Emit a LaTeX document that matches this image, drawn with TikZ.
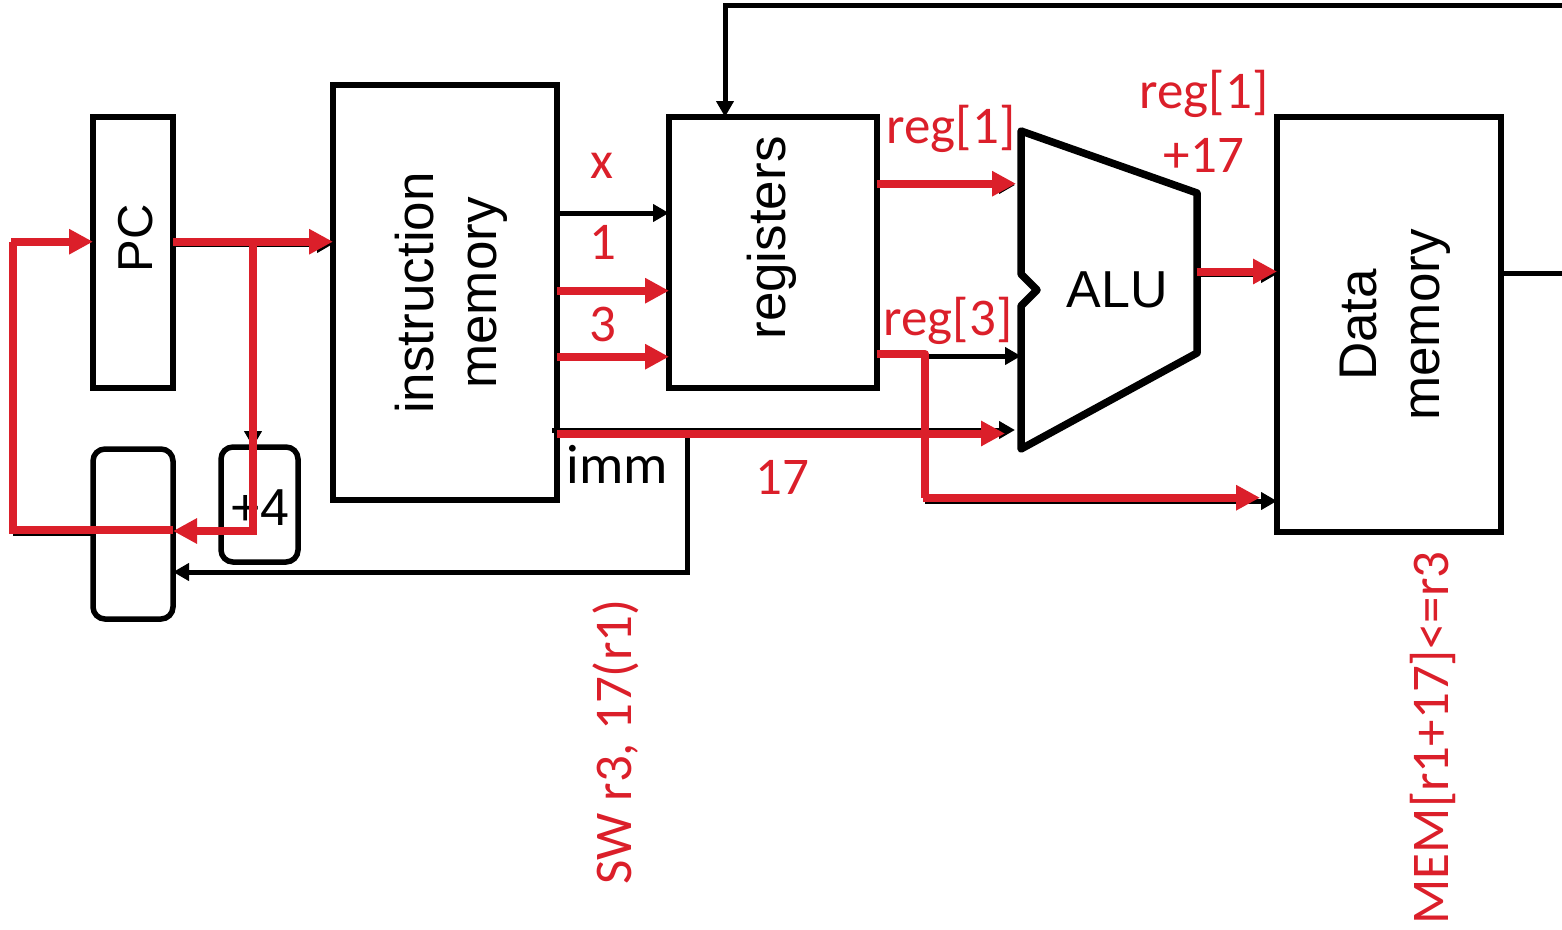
\documentclass[tikz,border=0pt]{standalone}
\usepackage{fontspec}
\setmainfont{Carlito}
\newfontfamily\arl{Liberation Sans}
\usetikzlibrary{arrows.meta}
\definecolor{rd}{HTML}{DB1F2A}
\tikzset{x=1pt,y=-1pt,
 box/.style={draw=black,line width=5.5pt,line join=miter},
 rbox/.style={draw=black,line width=5.5pt,rounded corners=12pt},
 blk/.style={draw=black,line width=5pt,-{Triangle[length=16pt,width=17pt]}},
 blkn/.style={draw=black,line width=5pt},
 red/.style={draw=rd,line width=8pt,-{Triangle[length=24pt,width=24pt]}},
 redn/.style={draw=rd,line width=8pt},
 lab/.style={font=\fontsize{55.5}{55.5}\selectfont,text=black,inner sep=0pt},
 alab/.style={font=\arl\fontsize{52}{52}\selectfont,text=black,inner sep=0pt},
 tlab/.style={font=\arl\fontsize{53}{63}\selectfont,text=black,inner sep=0pt},
 rlab/.style={font=\fontsize{53}{53}\selectfont,text=rd,inner sep=0pt},
}
\begin{document}
\begin{tikzpicture}
\useasboundingbox (0,0) rectangle (1562,929);
\path[box] (93,117) rectangle (173,388);
\node[alab,rotate=90,font=\arl\fontsize{49}{49}\selectfont] (pc) at (136,238) {PC};
\path[box] (333,85) rectangle (557,500);
\node[tlab,rotate=90,align=center] (im) at (451,293) {instruction\\memory};
\path[box] (669,117) rectangle (877,388);
\node[tlab,rotate=90] (rg) at (772,238) {registers};
\path[box] (1277,117) rectangle (1501,532);
\node[tlab,rotate=90,align=center] (dm) at (1395,325) {Data\\memory};
\path[rbox] (93,449) rectangle (173,619);
\path[rbox] (221,447) rectangle (298,562);
\node[alab] (p4) at (260,508) {+4};
\draw[line width=7.5pt,line join=round] (1021,131) -- (1197,193) -- (1197,353) -- (1021,449) -- (1021,306) -- (1037,290) -- (1021,274) -- cycle;
\node[alab] (alu) at (1117,290) {ALU};
% black
\coordinate (a1) at (1562,5); \coordinate (a2) at (725,5); \coordinate (a3) at (725,117);
\draw[blk] (a1) -- (a2) -- (a3);
\coordinate (b1) at (1501,273); \coordinate (b2) at (1562,273);
\draw[blkn] (b1) -- (b2);
\coordinate (c1) at (557,213); \coordinate (c2) at (669,213);
\draw[blk] (c1) -- (c2);
\coordinate (d1) at (925,356); \coordinate (d2) at (1021,356);
\draw[blk] (d1) -- (d2);
\coordinate (e1) at (925,501); \coordinate (e2) at (1277,501);
\draw[blk] (e1) -- (e2);
\coordinate (f1) at (552,430); \coordinate (f2) at (1015,430);
\draw[blk] (f1) -- (f2);
\coordinate (g1) at (687,432); \coordinate (g2) at (687,572); \coordinate (g3) at (173,572);
\draw[blk,line join=miter] (g1) -- (g2) -- (g3);
\coordinate (h1) at (253,245); \coordinate (h2) at (253,447);
\draw[blk] (h1) -- (h2);
\coordinate (k1) at (13,533); \coordinate (k2) at (93,533);
\draw[blkn] (k1) -- (k2);
\coordinate (m1) at (173,244); \coordinate (m2) at (333,244);
\draw[blk] (m1) -- (m2);
\coordinate (n1) at (877,185); \coordinate (n2) at (1015,185);
\draw[blk] (n1) -- (n2);
\coordinate (o1) at (1197,274); \coordinate (o2) at (1277,274);
\draw[blk] (o1) -- (o2);
% red
\draw[red] (173,241.7) -- (333,241.7);
\draw[redn,line cap=rect] (253,241.7) -- (253,531);
\draw[red] (253,531) -- (173,531);
\draw[redn,line join=miter] (173,530) -- (13,530) -- (13,241.7);
\draw[red] (11,241.7) -- (93,241.7);
\draw[red] (557,290.7) -- (669,290.7);
\draw[red] (557,356.7) -- (669,356.7);
\draw[red] (877,183.7) -- (1016,183.7);
\draw[redn,line join=round] (877,354) -- (925,354) -- (925,497.7);
\draw[red] (923,497.7) -- (1260,497.7);
\draw[red] (557,433.5) -- (1005,433.5);
\draw[red] (1197,271.5) -- (1277,271.5);
% text
\node[lab] (imm) at (617,464) {imm};
\node[rlab] (x) at (602,166) {x};
\node[rlab] (nn1) at (603,242) {1};
\node[rlab] (nn3) at (603,324) {3};
\node[rlab] (r1) at (951,129) {reg[1]};
\node[rlab] (r3) at (948,321) {reg[3]};
\node[rlab] (r4) at (1204,94) {reg[1]};
\node[rlab] (r5) at (1204,155) {+17};
\node[rlab] (n17) at (782,477) {17};
\node[rlab,rotate=90] (sw) at (616,742) {SW r3, 17(r1)};
\node[rlab,rotate=90] (mem) at (1433,738) {MEM[r1+17]<=r3};
\end{tikzpicture}
\end{document}
